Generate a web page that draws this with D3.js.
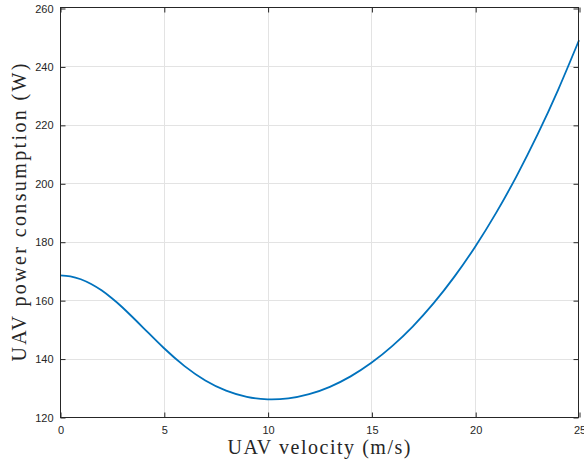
<!DOCTYPE html>
<html><head><meta charset="utf-8">
<script src="https://cdn.jsdelivr.net/npm/d3@7"></script>
<style>body{margin:0;background:#fff}svg{display:block}</style>
</head><body><svg id="c" width="584" height="466"></svg>
<script>
const velocity = [0,0.5,1,1.5,2,2.5,3,4,5,6,7,8,9,10,11,12,13,14,15,16,17,18,19,20,21,22,23,24,25];
const power = [168.49,168.16,167.16,165.54,163.35,160.66,157.56,150.63,143.61,137.41,132.50,129.01,126.89,126.03,126.37,127.81,130.33,133.91,138.55,144.26,151.06,158.97,168.04,178.30,189.79,202.56,216.64,232.09,248.96];
const xTicks = [0,5,10,15,20,25];
const yTicks = [120,140,160,180,200,220,240,260];
const xLabel = "UAV velocity (m/s)";
const yLabel = "UAV power consumption (W)";

const L=60,R=579,T=8,B=417;
const svg=d3.select("#c");
const x=d3.scaleLinear().domain([0,25]).range([L,R]);
const y=d3.scaleLinear().domain([120,260]).range([B,T]);
const g=svg.append("g");
// grid
g.selectAll(".gx").data(xTicks.slice(1,-1)).join("line")
 .attr("x1",d=>Math.round(x(d))+0.5).attr("x2",d=>Math.round(x(d))+0.5).attr("y1",T).attr("y2",B)
 .attr("stroke","#e3e3e3").attr("stroke-width",1);
g.selectAll(".gy").data(yTicks.slice(1,-1)).join("line")
 .attr("y1",d=>Math.round(y(d))+0.5).attr("y2",d=>Math.round(y(d))+0.5).attr("x1",L).attr("x2",R)
 .attr("stroke","#e3e3e3").attr("stroke-width",1);
// line
const line=d3.line().x((d,i)=>x(velocity[i])).y(d=>y(d)).curve(d3.curveNatural);
g.append("path").datum(power).attr("d",line).attr("fill","none")
 .attr("stroke","#0072BD").attr("stroke-width",1.8);
// axes
const ff="Liberation Sans, Arial, sans-serif";
const ax=d3.axisBottom(x).tickValues(xTicks).tickSize(-5).tickPadding(9).tickFormat(d3.format("d"));
const ay=d3.axisLeft(y).tickValues(yTicks).tickSize(-5).tickPadding(7).tickFormat(d3.format("d"));
const axT=d3.axisTop(x).tickValues(xTicks).tickSize(-5).tickFormat("");
const ayR=d3.axisRight(y).tickValues(yTicks).tickSize(-5).tickFormat("");
function style(sel){sel.select(".domain").remove();
 sel.selectAll(".tick line").attr("stroke","#262626");
 sel.selectAll("text").attr("fill","#262626").attr("font-family",ff).attr("font-size","11px");}
svg.append("g").attr("transform",`translate(0.5,${B+0.5})`).call(ax).call(style);
svg.append("g").attr("transform",`translate(${L+0.5},0.5)`).call(ay).call(style);
svg.append("g").attr("transform",`translate(0.5,${T-0.5})`).call(axT).call(style);
svg.append("g").attr("transform",`translate(${R-0.5},0.5)`).call(ayR).call(style);
svg.append("rect").attr("x",L+0.5).attr("y",T-0.5).attr("width",R-L-1).attr("height",B-T+1)
 .attr("fill","none").attr("stroke","#262626").attr("stroke-width",1);
// labels
const sf="Liberation Serif, Times New Roman, serif";
svg.append("text").attr("x",(227+411)/2).attr("y",454).attr("text-anchor","middle")
 .attr("font-family",sf).attr("font-size","20px").attr("fill","#262626")
 .attr("textLength",183).attr("lengthAdjust","spacing").text(xLabel);
svg.append("text").attr("transform",`translate(26,${(T+B)/2}) rotate(-90)`).attr("text-anchor","middle")
 .attr("font-family",sf).attr("font-size","20px").attr("fill","#262626")
 .attr("textLength",298).attr("lengthAdjust","spacing").text(yLabel);
</script></body></html>
